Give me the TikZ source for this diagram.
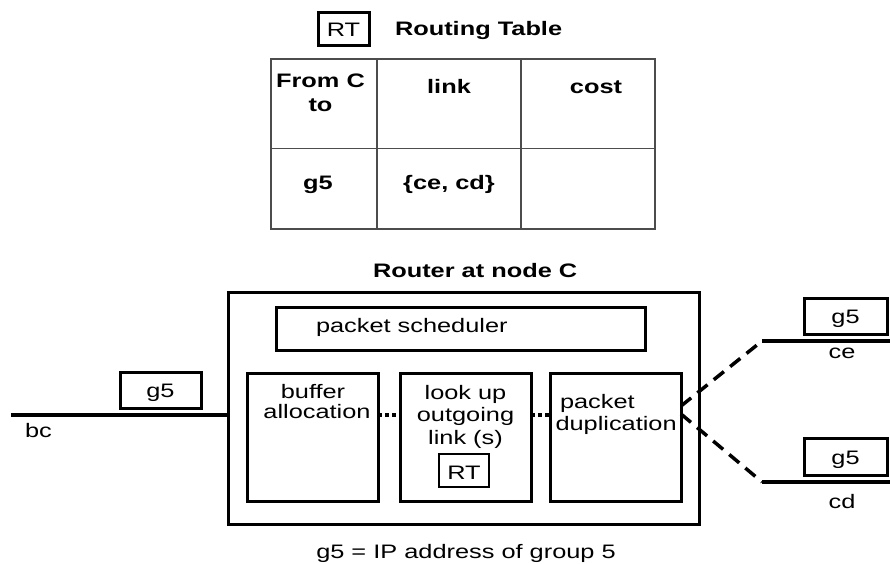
\documentclass[tikz,border=0pt]{standalone}
\usepackage{fontspec}
\setmainfont[FakeStretch=1.3]{Liberation Sans}
\usetikzlibrary{calc}
\begin{document}
\begin{tikzpicture}[x=1pt,y=-1pt,
  every node/.style={font=\fontsize{19.5}{22}\selectfont, inner sep=0pt, outer sep=0pt},
  box/.style={draw=black, line width=3pt, rectangle},
  tbl/.style={draw=black!70, line width=1.4pt},
  lbl/.style={anchor=base},
  lbll/.style={anchor=base west},
  bold/.style={font=\fontsize{19.5}{22}\selectfont\bfseries},
  wire/.style={line width=4pt},
  dashwire/.style={line width=3.5pt, dash pattern=on 13pt off 8pt},
  dotwire/.style={line width=4pt, dash pattern=on 4pt off 3pt}]
\useasboundingbox (0,0) rectangle (890,563);

% Routing table title
\node[box, minimum width=51, minimum height=33] (rt) at (343.5,28.5) {};
\node[lbl] (rttxt) at (343.5,36.5) {RT};
\node[lbll, bold] (rtitle) at (395,35.5) {Routing Table};

% table
\node[tbl, minimum width=384, minimum height=170] (table) at (463,144) {};
\draw[tbl] (377,59) -- (377,229);
\draw[tbl] (521,59) -- (521,229);
\draw[tbl] (271,148.5) -- (655,148.5);
\node[lbl, bold] (h1a) at (320.5,87) {From C};
\node[lbl, bold] (h1b) at (320.5,111.5) {to};
\node[lbl, bold] (h2) at (449,93) {link};
\node[lbl, bold] (h3) at (596,93) {cost};
\node[lbl, bold] (c1) at (318,189.5) {g5};
\node[lbl, bold] (c2) at (449,189.5) {\{ce, cd\}};

% router
\node[lbll, bold] (rtitle2) at (373,277) {Router at node C};
\node[box, minimum width=471, minimum height=232] (outer) at (463.5,408) {};
\node[box, minimum width=369, minimum height=43] (sched) at (460.5,328.5) {};
\node[lbll] (schedtxt) at (316,332) {packet scheduler};

\node[box, minimum width=131, minimum height=128] (buf) at (312.5,437) {};
\node[lbl] (buf1) at (313,398) {buffer};
\node[lbl] (buf2) at (317,418) {allocation};

\node[box, minimum width=131, minimum height=128] (look) at (465.5,437) {};
\node[lbl] (look1) at (465.5,399) {look up};
\node[lbl] (look2) at (465.5,421.5) {outgoing};
\node[lbl] (look3) at (465.5,444) {link (s)};
\node[box, line width=2.5pt, minimum width=50, minimum height=33] (rt2) at (464,470.5) {};
\node[lbl] (rt2txt) at (464,479) {RT};

\node[box, minimum width=131, minimum height=128] (dup) at (615.5,437) {};
\node[lbll] (dup1) at (560,408) {packet};
\node[lbll] (dup2) at (555.5,430.5) {duplication};

% links
\coordinate (lvl) at (0,415);
\coordinate (bc0) at (11,415);
\draw[dotwire] (buf.east |- lvl) -- (look.west |- lvl);
\draw[dotwire] (look.east |- lvl) -- (dup.west |- lvl);
\draw[wire] (bc0) -- (outer.west |- lvl);
\node[box, minimum width=81, minimum height=36] (g5a) at (160.5,390) {};
\node[lbl] (g5atxt) at (160.5,397) {g5};
\node[lbll] (bc) at (25,437) {bc};

\coordinate (ce1) at (762,341);
\coordinate (ce2) at (890,341);
\coordinate (cd1) at (762,482);
\coordinate (cd2) at (890,482);
\coordinate (up) at (0,406);
\coordinate (dn) at (0,414);
\draw[dashwire] (dup.east |- up) -- (ce1);
\draw[dashwire] (dup.east |- dn) -- (cd1);
\draw[wire] (ce1) -- (ce2);
\draw[wire] (cd1) -- (cd2);
\node[box, minimum width=83, minimum height=36] (g5b) at (845.5,316) {};
\node[lbl] (g5btxt) at (845.5,323) {g5};
\node[lbl] (ce) at (842,358) {ce};
\node[box, minimum width=83, minimum height=37] (g5c) at (845.5,456.5) {};
\node[lbl] (g5ctxt) at (845.5,464) {g5};
\node[lbl] (cd) at (842,508) {cd};

\node[lbl] (note) at (466,558.5) {g5 = IP address of group 5};
\end{tikzpicture}
\end{document}
